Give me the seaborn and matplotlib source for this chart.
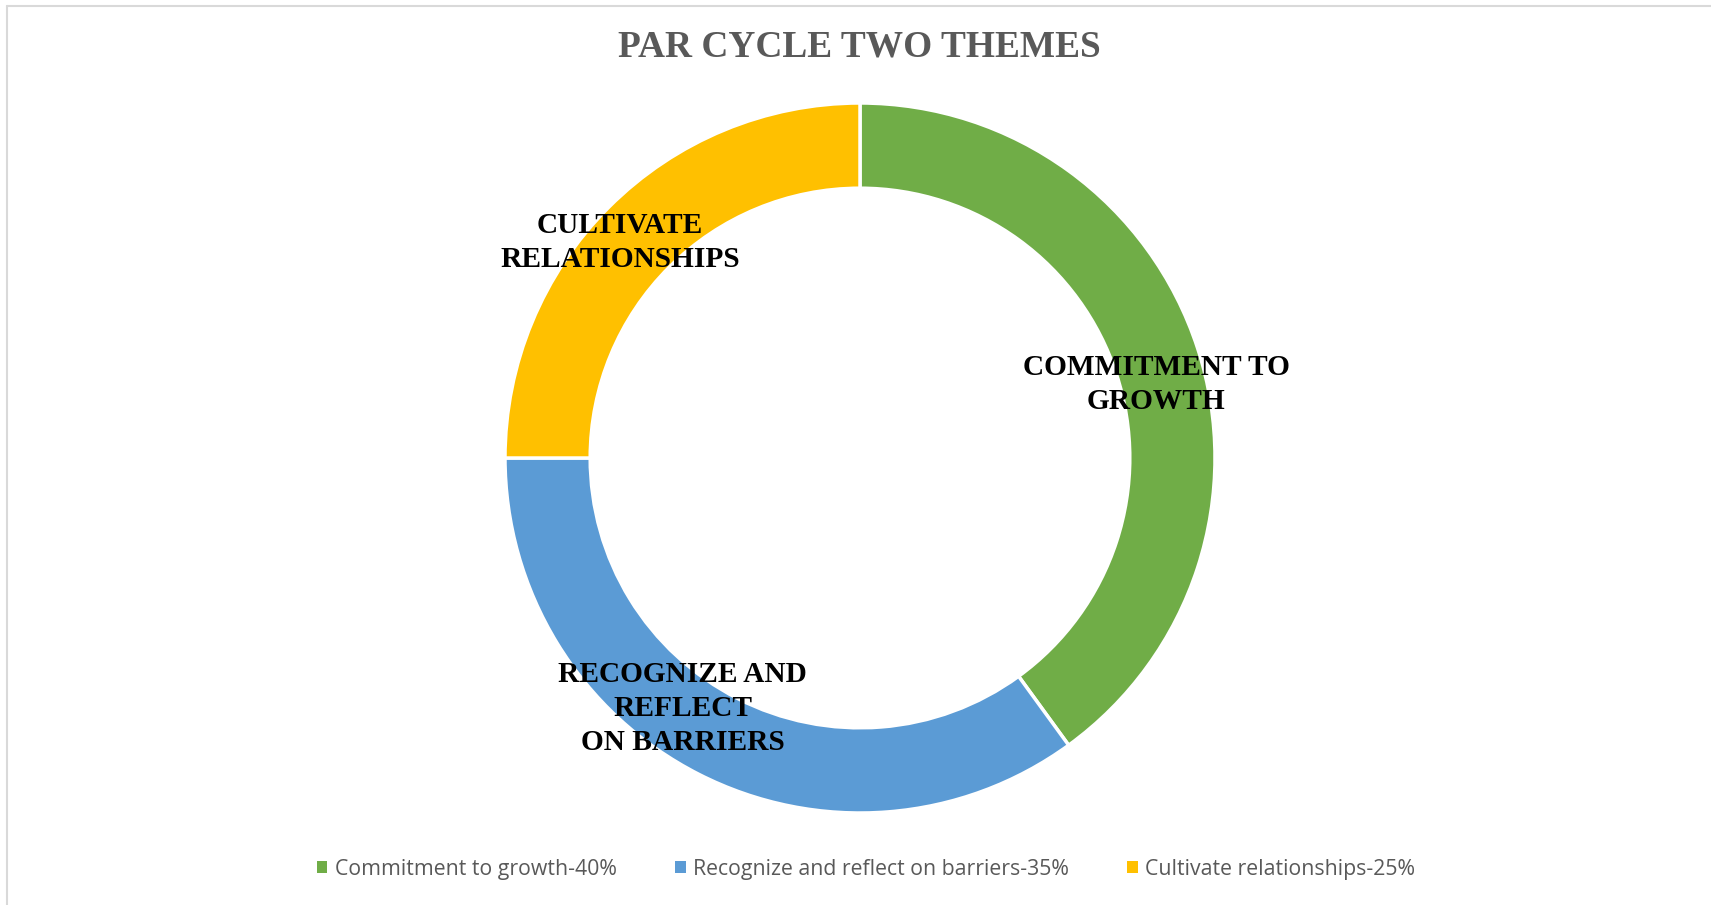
import matplotlib
matplotlib.use("Agg")
import matplotlib.pyplot as plt
import seaborn as sns
from matplotlib.lines import Line2D
from matplotlib.patches import Patch

# ===============================
# datos
# ===============================
temas = ["Commitment to growth", "Recognize and reflect on barriers", "Cultivate relationships"]
porcentajes = [40, 35, 25]
etiquetas_anillo = ["COMMITMENT TO\nGROWTH", "RECOGNIZE AND\nREFLECT\nON BARRIERS", "CULTIVATE\nRELATIONSHIPS"]
colores = ["#70AD47", "#5B9BD5", "#FFC000"]

# posicion de las etiquetas (en unidades del radio)
pos_etiquetas = [(0.834, 0.208), (-0.50, -0.705), (-0.676, 0.608)]

sns.set_theme(style="white")
plt.rcParams['font.family'] = ['Liberation Serif', 'DejaVu Serif']

fig = plt.figure(figsize=(17.11, 9.05), dpi=100)
ax = fig.add_axes([505 / 1711, 92 / 905, 710 / 1711, 710 / 905])

ax.pie(porcentajes,
       colors=colores,
       startangle=90,
       counterclock=False,
       radius=1.0,
       wedgeprops=dict(width=0.24, edgecolor='white', linewidth=2.5))
ax.set_xlim(-1, 1)
ax.set_ylim(-1, 1)
ax.set_aspect('equal')
ax.axis('off')

for texto, (x, y) in zip(etiquetas_anillo, pos_etiquetas):
    ax.text(x, y, texto, ha='center', va='center', fontsize=21.2,
            fontweight='bold', color='black', linespacing=1.33)

fig.text(859 / 1711, 1 - 47 / 905, "PAR CYCLE TWO THEMES", ha='center', va='center',
         fontsize=26.9, fontweight='bold', color='#595959')

# leyenda
handles = [Patch(facecolor=c, edgecolor='none') for c in colores]
labels = [f"{t}-{p}%" for t, p in zip(temas, porcentajes)]
fig.legend(handles, labels, loc='center', bbox_to_anchor=(866 / 1711, 1 - 869 / 905),
           ncol=3, frameon=False, handlelength=0.5, handleheight=0.5,
           handletextpad=0.35, columnspacing=2.75,
           prop={'family': 'Open Sans', 'size': 15.3}, labelcolor='#595959')

# borde
fig.add_artist(Line2D([6.5 / 1711, 6.5 / 1711], [0, 1 - 6 / 905], color='#D9D9D9', linewidth=1.5))
fig.add_artist(Line2D([6.5 / 1711, 1], [1 - 6 / 905, 1 - 6 / 905], color='#D9D9D9', linewidth=1.5))

fig.savefig('out.png', dpi=100, facecolor='white')
